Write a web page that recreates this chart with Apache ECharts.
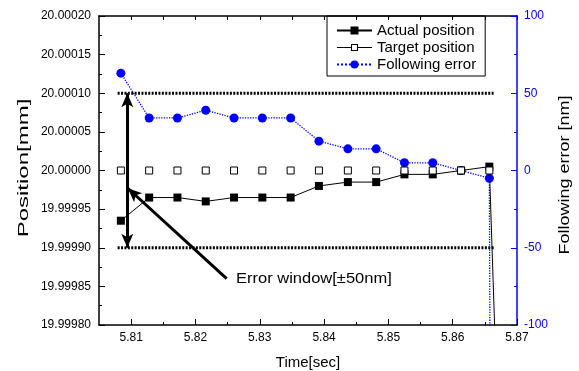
<!DOCTYPE html>
<html>
<head>
<meta charset="utf-8">
<script src="https://cdn.jsdelivr.net/npm/echarts@6/dist/echarts.min.js"></script>
<style>
  html, body { margin: 0; padding: 0; background: #fff; }
  #chart { width: 579px; height: 371px; }
</style>
</head>
<body>
<div id="chart"></div>
<script>
// sample times [sec]; the last one is where both traces fall off the plot
var times = [5.8084, 5.8128, 5.8172, 5.8216, 5.8260, 5.8304, 5.8348, 5.8392, 5.8437, 5.8481, 5.8525, 5.8569, 5.8613, 5.8657, 5.8701];
var actualPos = [19.999935, 19.999965, 19.999965, 19.99996, 19.999965, 19.999965, 19.999965, 19.99998, 19.999985, 19.999985, 19.999995, 19.999995, 20.0, 20.000005, 19.9989];
var targetPos = [20.0, 20.0, 20.0, 20.0, 20.0, 20.0, 20.0, 20.0, 20.0, 20.0, 20.0, 20.0, 20.0, 20.0, null];
var followErr = [63, 34, 34, 39, 34, 34, 34, 19, 14, 14, 5, 5, 0, -5, -5000];

// error window [mm]
var windowTimes = [5.8079, 5.8665];
var windowUpper = [20.0001, 20.0001];
var windowLower = [19.9999, 19.9999];
var arrowTime = 5.8094;
var pointerFrom = [5.82485, 19.99986];
var pointerTo = [5.80948, 19.999977];

var xTicks = [5.81, 5.82, 5.83, 5.84, 5.85, 5.86, 5.87];
var xMinorTicks = [5.815, 5.825, 5.835, 5.845, 5.855, 5.865];

var FONT = 'Arial, "Liberation Sans", sans-serif';
var BLUE = '#0000ff';

// legend icon for the target: line - hollow square - line
var targetIcon = 'path://M0,4.5h14v1h-14z M14,1.5h7v7h-7z M15,2.5v5h5v-5z M21,4.5h14v1h-14z';

function pairs(xs, ys) {
    var out = [];
    for (var i = 0; i < xs.length; i++) {
        out.push([xs[i], ys[i]]);
    }
    return out;
}

var myChart = echarts.init(document.getElementById('chart'), null, { renderer: 'canvas' });

var option = {
    backgroundColor: '#fff',
    animation: false,
    grid: { left: 99, right: 62, top: 16, bottom: 46, outerBoundsMode: 'none', containLabel: false },
    legend: {
        left: 327,
        top: 16,
        orient: 'vertical',
        padding: [7, 9, 4, 9],
        itemGap: 2,
        itemWidth: 35,
        itemHeight: 10,
        borderColor: '#000',
        borderWidth: 1,
        textStyle: { fontSize: 15, color: '#000', fontFamily: FONT },
        data: [
            { name: 'Actual position' },
            { name: 'Target position', icon: targetIcon, itemStyle: { color: '#000', borderWidth: 0 } },
            { name: 'Following error' }
        ]
    },
    xAxis: [{
        type: 'value',
        min: 5.805,
        max: 5.87,
        position: 'bottom',
        splitLine: { show: false },
        axisLine: { onZero: false, lineStyle: { color: '#000', width: 1.5 } },
        axisTick: { inside: true, length: 6, customValues: xTicks, lineStyle: { color: '#000' } },
        axisLabel: {
            customValues: xTicks, color: '#000', fontSize: 12, fontFamily: FONT, margin: 7,
            formatter: function (v) { return v.toFixed(2); }
        },
        name: 'Time[sec]',
        nameLocation: 'middle',
        nameGap: 30,
        nameTextStyle: { fontSize: 15, color: '#000', fontFamily: FONT }
    }, {
        type: 'value',
        min: 5.805,
        max: 5.87,
        position: 'bottom',
        splitLine: { show: false },
        axisLine: { show: false, onZero: false },
        axisTick: { inside: true, length: 3, customValues: xMinorTicks, lineStyle: { color: '#000' } },
        axisLabel: { show: false }
    }, {
        type: 'value',
        min: 5.805,
        max: 5.87,
        position: 'top',
        splitLine: { show: false },
        axisLine: { onZero: false, lineStyle: { color: '#000', width: 1.5 } },
        axisTick: { inside: true, length: 4, customValues: xTicks.concat(xMinorTicks), lineStyle: { color: '#000' } },
        axisLabel: { show: false }
    }],
    yAxis: [{
        type: 'value',
        min: 19.9998,
        max: 20.0002,
        interval: 0.00005,
        position: 'left',
        splitLine: { show: false },
        axisLine: { show: true, onZero: false, lineStyle: { color: '#000', width: 1.5 } },
        axisTick: { inside: true, length: 6, lineStyle: { color: '#000' } },
        minorTick: { show: true, splitNumber: 2, length: 3, lineStyle: { color: '#000' } },
        axisLabel: {
            color: '#000', fontSize: 12, fontFamily: FONT, margin: 8,
            formatter: function (v) { return v.toFixed(5); }
        }
    }, {
        type: 'value',
        min: -100,
        max: 100,
        interval: 50,
        position: 'right',
        splitLine: { show: false },
        axisLine: { show: true, onZero: false, lineStyle: { color: BLUE, width: 1.5 } },
        axisTick: { inside: true, length: 6, lineStyle: { color: BLUE } },
        minorTick: { show: true, splitNumber: 2, length: 3, lineStyle: { color: BLUE } },
        axisLabel: { color: BLUE, fontSize: 12, fontFamily: FONT, margin: 7 }
    }],
    graphic: [{
        type: 'text',
        x: 24, y: 168,
        rotation: Math.PI / 2,
        scaleX: 1.6,
        style: { text: 'Position[mm]', fill: '#000', font: '15px ' + FONT, align: 'center', verticalAlign: 'middle' }
    }, {
        type: 'text',
        x: 565, y: 175,
        rotation: Math.PI / 2,
        scaleX: 1.2,
        style: { text: 'Following error [nm]', fill: '#000', font: '15px ' + FONT, align: 'center', verticalAlign: 'middle' }
    }, {
        type: 'text',
        x: 236, y: 279,
        scaleX: 1.1,
        style: { text: 'Error window[±50nm]', fill: '#000', font: '15px ' + FONT, align: 'left', verticalAlign: 'middle' }
    }],
    series: [{
        name: 'window upper',
        type: 'line',
        data: pairs(windowTimes, windowUpper),
        symbol: 'none',
        lineStyle: { color: '#000', width: 3, type: [2, 1.4] },
        silent: true,
        z: 1,
        markLine: {
            silent: true,
            symbol: ['arrow', 'arrow'],
            symbolSize: [9, 14],
            label: { show: false },
            lineStyle: { color: '#000', width: 3, type: 'solid' },
            data: [
                [{ coord: [arrowTime, windowUpper[0]] }, { coord: [arrowTime, windowLower[0]] }],
                [{ coord: pointerFrom, symbol: 'none' }, { coord: pointerTo, symbol: 'arrow' }]
            ]
        }
    }, {
        name: 'window lower',
        type: 'line',
        data: pairs(windowTimes, windowLower),
        symbol: 'none',
        lineStyle: { color: '#000', width: 3, type: [2, 1.4] },
        silent: true,
        z: 1
    }, {
        name: 'Following error',
        type: 'line',
        yAxisIndex: 1,
        data: pairs(times, followErr),
        clip: true,
        symbol: 'circle',
        symbolSize: 9,
        itemStyle: { color: BLUE },
        lineStyle: { color: BLUE, width: 1.3, type: 'dotted' },
        z: 2
    }, {
        name: 'Actual position',
        type: 'line',
        data: pairs(times, actualPos),
        clip: true,
        symbol: 'rect',
        symbolSize: 8,
        itemStyle: { color: '#000' },
        lineStyle: { color: '#000', width: 1 },
        z: 3
    }, {
        name: 'Target position',
        type: 'line',
        data: pairs(times, targetPos),
        clip: true,
        symbol: 'rect',
        symbolSize: 7,
        itemStyle: { color: '#fff', borderColor: '#000', borderWidth: 1 },
        lineStyle: { opacity: 0 },
        z: 4
    }]
};

myChart.setOption(option);

window.addEventListener('resize', function () {
    myChart.resize();
});
</script>
</body>
</html>
